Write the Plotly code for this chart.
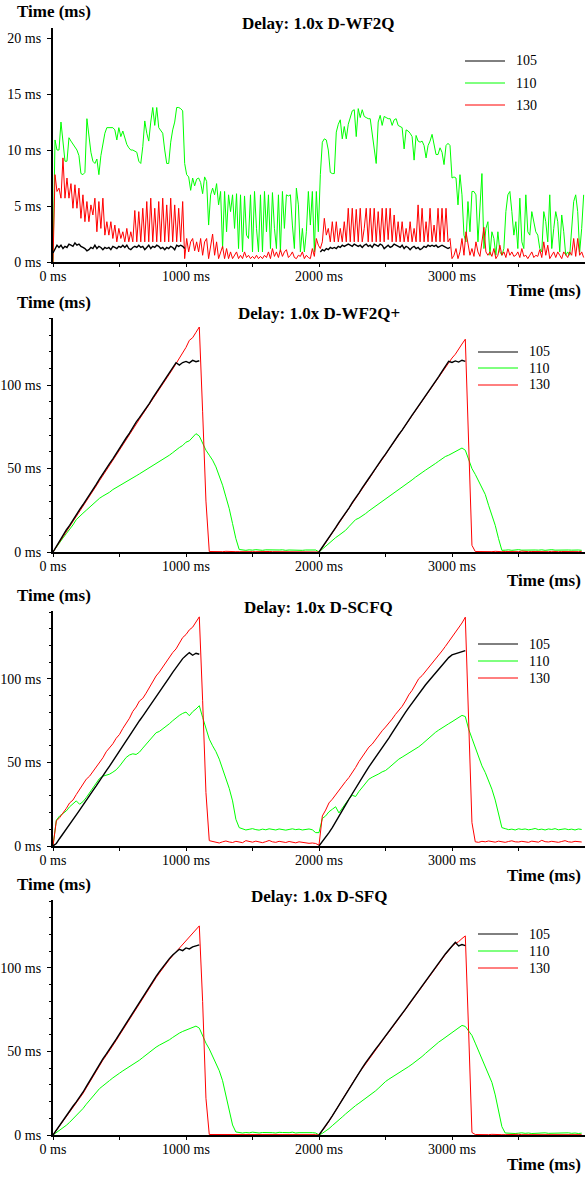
import plotly.graph_objects as go

# ---------------- data ----------------
SERIES_NAMES = ["105", "110", "130"]
SERIES_COLORS = ["#000000", "#00ff00", "#ff0000"]
X_TICK_VALS = [0, 1000, 2000, 3000]
X_TICK_LABELS = ["0 ms", "1000 ms", "2000 ms", "3000 ms"]
TITLES = ["Delay: 1.0x D-WF2Q", "Delay: 1.0x D-WF2Q+", "Delay: 1.0x D-SCFQ", "Delay: 1.0x D-SFQ"]

STEP_P1 = 15   # ms between samples, panel 1
STEP = 25      # ms between samples, panels 2-4

# Panel 1: D-WF2Q
green_wf2q = [
    0.0, 10.9, 10.0, 10.0, 12.5, 10.5, 9.0, 9.0, 11.1, 10.8, 10.5, 10.3, 10.0, 9.5, 7.9, 7.8, 8.0, 12.8, 11.5, 9.8,
    9.0, 8.8, 9.2, 7.8, 9.5, 10.6, 11.5, 12.0, 12.0, 12.0, 12.0, 11.8, 10.9, 12.0, 11.2, 11.7, 11.0, 10.5, 10.2, 10.0,
    10.0, 9.9, 9.8, 9.0, 8.8, 10.3, 12.6, 11.5, 10.8, 12.5, 13.8, 12.2, 13.8, 12.0, 11.8, 11.5, 10.0, 8.8, 8.8, 10.7,
    11.8, 12.5, 13.8, 13.8, 13.7, 13.5, 8.8,
    7.8, 7.6, 6.4, 7.5, 6.8, 7.4, 7.5, 7.1, 6.1, 7.6, 7.2, 3.3, 6.0, 6.6, 6.0, 7.0, 5.1, 6.3, 1.2, 6.3,
    2.7, 6.0, 4.5, 6.0, 3.0, 6.1, 1.2, 6.0, 0.9, 5.9, 2.4, 2.1, 6.0, 0.9, 6.3, 3.0, 0.9, 6.0, 0.9, 6.3,
    2.7, 6.0, 1.2, 6.2, 3.0, 1.2, 6.0, 0.9, 6.3, 3.0, 6.0, 5.9, 6.0, 3.3, 1.2, 6.6, 5.1, 0.9, 3.0, 0.9,
    2.7, 6.3, 3.3, 6.3, 0.9, 6.3, 2.7,
    7.8, 10.7, 11.0, 10.9, 10.0, 8.0, 7.9, 7.9, 11.6, 12.3, 12.7, 11.0, 12.1, 11.0, 12.3, 12.9, 13.5, 13.6, 11.2, 13.7,
    12.9, 13.6, 13.0, 12.9, 12.8, 12.8, 11.4, 10.4, 8.8, 12.5, 13.1, 12.2, 13.0, 12.9, 12.8, 12.8, 12.2, 12.7, 12.8, 12.2,
    12.1, 12.0, 10.1, 11.8, 11.7, 11.5, 11.2, 9.1, 11.3, 10.8, 10.7, 10.8, 10.4, 9.3, 10.4, 10.8, 11.4, 10.4, 9.6, 9.6,
    10.2, 9.8, 8.7, 10.4, 10.6, 10.4, 7.5,
    7.6, 7.5, 5.1, 7.8, 6.0, 2.4, 1.8, 5.4, 2.7, 6.3, 6.3, 6.0, 1.8, 4.8, 7.9, 1.2, 3.0, 3.6, 0.6, 2.7,
    2.1, 0.6, 2.7, 0.9, 0.6, 1.2, 4.5, 6.0, 6.3, 4.5, 2.4, 3.6, 1.2, 5.7, 1.8, 1.2, 6.0, 2.7, 2.4, 4.5,
    3.6, 2.7, 2.4, 1.2, 0.9, 4.5, 3.6, 1.8, 6.0, 1.2, 3.0, 4.5, 3.6, 0.9, 4.2, 2.7, 0.6, 0.9, 0.6, 2.7,
    5.4, 6.0, 4.5, 0.9, 3.0, 6.0,
]
red_wf2q = [
    0.0, 7.8, 6.3, 6.6, 5.7, 9.3, 5.7, 7.5, 5.7, 7.0, 4.8, 6.9, 4.8, 6.6, 3.9, 6.0, 3.6, 5.4, 3.6, 5.1,
    4.2, 5.7, 2.7, 5.4, 3.0, 5.7, 2.4, 3.6, 2.4, 3.6, 2.1, 3.3, 1.8, 3.0, 2.1, 2.7, 1.8, 3.0, 1.8, 2.7,
    1.8, 4.6, 1.8, 4.5, 1.8, 4.8, 1.8, 5.4, 1.8, 5.7, 1.8, 4.8, 1.8, 5.4, 1.8, 5.7, 1.8, 5.1, 1.8, 5.7,
    1.8, 5.1, 1.8, 4.8, 1.8, 5.4, 0.3,
    2.1, 0.9, 1.8, 2.1, 1.0, 1.8, 0.9, 2.1, 0.6, 1.8, 2.1, 0.3, 1.5, 2.5, 0.6, 1.8, 0.3, 0.9, 1.4, 0.3,
    1.2, 0.3, 0.9, 0.3, 0.6, 0.9, 0.3, 0.6, 0.3, 0.9, 0.4, 0.6, 0.3, 0.5, 0.3, 0.6, 0.3, 0.5, 0.3, 0.6,
    0.4, 0.9, 0.3, 1.2, 0.5, 0.9, 0.4, 1.1, 0.5, 0.9, 1.1, 0.4, 0.6, 0.9, 0.4, 0.3, 0.6, 0.5, 0.9, 0.3,
    0.6, 0.4, 0.3, 1.2, 0.5, 2.1, 1.5,
    1.2, 1.8, 3.9, 2.4, 3.0, 1.8, 3.6, 1.8, 3.6, 1.8, 3.0, 1.8, 3.6, 1.8, 4.8, 1.8, 4.8, 1.8, 4.7, 1.8,
    4.8, 1.8, 3.0, 4.8, 1.8, 4.8, 1.8, 4.8, 1.8, 4.5, 1.8, 4.8, 1.8, 4.8, 2.0, 4.8, 1.8, 4.2, 1.8, 3.6,
    1.8, 3.6, 1.8, 3.0, 1.8, 3.6, 1.8, 3.0, 1.8, 5.1, 1.8, 4.8, 1.8, 3.6, 1.8, 4.8, 1.8, 3.3, 1.8, 4.8,
    1.8, 4.8, 1.8, 4.8, 1.8, 2.1, 0.3,
    0.6, 1.2, 0.3, 0.9, 2.1, 0.6, 2.7, 1.8, 0.6, 1.2, 0.5, 1.8, 0.9, 0.5, 1.8, 3.1, 0.9, 0.6, 0.9, 0.5,
    1.2, 0.3, 0.6, 1.5, 0.6, 0.9, 0.4, 1.2, 0.6, 0.9, 0.5, 0.6, 0.9, 0.4, 1.2, 0.5, 0.6, 0.3, 0.6, 0.9,
    0.4, 0.6, 0.5, 1.1, 0.4, 1.8, 0.6, 1.5, 0.3, 0.6, 0.9, 0.4, 0.9, 0.6, 0.3, 0.9, 0.6, 0.4, 0.9, 0.6,
    2.1, 0.5, 2.1, 0.6, 0.9, 0.4,
]
black_wf2q_a = [  # starts at 0 ms
    0.8, 1.2, 1.5, 1.3, 1.5, 1.2, 1.4, 1.3, 1.6, 1.5, 1.4, 1.7, 1.5, 1.6, 1.4, 1.3, 1.2, 1.0, 1.1, 1.3,
    1.2, 1.5, 1.2, 1.4, 1.3, 1.1, 1.3, 1.2, 1.3, 1.1, 1.4, 1.3, 1.2, 1.4, 1.3, 1.5, 1.3, 1.5, 1.2, 1.1,
    1.3, 1.4, 1.3, 1.5, 1.3, 1.4, 1.1, 1.3, 1.5, 1.2, 1.4, 1.3, 1.5, 1.4, 1.2, 1.3, 1.1, 1.3, 1.2, 1.4,
    1.3, 1.1, 1.5, 1.4, 1.5, 1.4, 1.2,
]
black_wf2q_b = [  # starts at 2010 ms
    0.9, 1.1, 1.0, 1.2, 1.1, 1.3, 1.2, 1.3, 1.2, 1.4, 1.3, 1.5, 1.4, 1.5, 1.6, 1.5, 1.4, 1.6, 1.5, 1.4,
    1.5, 1.3, 1.5, 1.6, 1.4, 1.5, 1.3, 1.6, 1.5, 1.4, 1.6, 1.5, 1.2, 1.4, 1.5, 1.3, 1.4, 1.6, 1.5, 1.4,
    1.3, 1.5, 1.2, 1.4, 1.3, 1.1, 1.3, 1.4, 1.2, 1.3, 1.1, 1.2, 1.4, 1.3, 1.5, 1.4, 1.5, 1.4, 1.5, 1.3,
    1.4, 1.5, 1.4, 1.3, 1.2, 1.3,
]

# Panel 2: D-WF2Q+
black_wf2qp_a = [
    0.0, 3.5, 6.8, 9.9, 13.2, 16.0, 19.3, 22.0, 25.4, 28.3, 31.2, 34.6, 37.2, 40.5, 43.8, 46.6, 49.8, 52.9, 55.8, 59.1,
    62.0, 65.4, 68.3, 71.2, 74.6, 77.8, 80.5, 83.2, 86.4, 89.1, 92.3, 95.4, 98.2, 101.3, 104.6, 107.5, 110.8, 113.4, 112.0, 113.5,
    114.2, 113.3, 114.8, 114.0, 114.6,
]
black_wf2qp_b = [
    0.0, 2.8, 5.7, 8.6, 11.9, 14.6, 17.8, 20.5, 23.4, 26.3, 29.6, 32.2, 35.3, 38.4, 41.0, 44.2, 47.1, 50.2, 52.8, 55.9,
    58.6, 61.7, 64.5, 67.3, 70.4, 73.0, 76.2, 79.1, 82.0, 84.9, 87.7, 90.8, 93.5, 96.6, 99.4, 102.3, 105.1, 108.2, 111.0, 114.3,
    113.6, 114.5, 113.8, 114.9, 114.2,
]
green_wf2qp = [
    0.0, 3.0, 5.6, 8.4, 11.0, 13.5, 16.2, 19.4, 21.5, 23.2, 25.0, 26.8, 28.5, 30.6, 32.2, 33.5, 34.6, 35.8, 37.4, 38.5,
    39.8, 40.9, 42.0, 43.1, 44.4, 45.6, 46.8, 48.0, 49.2, 50.6, 51.7, 52.9, 54.0, 55.3, 56.4, 58.0, 59.5, 61.2, 62.6, 63.8,
    65.8, 66.6, 68.8, 70.9, 69.5, 65.0, 61.0, 58.0, 55.0, 51.0, 46.0, 40.0, 33.0, 26.0, 17.0, 8.0, 1.5,
    1.2, 1.0, 1.3, 1.1, 1.4, 1.2, 1.0, 1.3, 1.2, 1.1, 1.4, 1.2, 1.3, 1.0, 1.2, 1.1, 1.3, 1.2, 1.0, 1.2, 1.3, 1.1, 1.2,
    0.0, 1.8, 3.5, 5.6, 7.2, 8.6, 10.0, 11.5, 13.0, 15.2, 17.6, 19.4, 20.3, 21.5, 23.0, 24.6, 26.0, 27.4, 28.8, 30.5,
    32.0, 33.4, 34.6, 36.0, 37.2, 38.6, 40.0, 41.8, 43.2, 44.8, 46.0, 47.6, 49.0, 50.2, 51.8, 53.0, 54.4, 55.8, 57.2, 58.0,
    59.0, 59.8, 61.0, 62.3, 61.0, 55.6, 50.0, 46.5, 42.5, 38.5, 34.5, 28.0, 22.5, 16.0, 8.0, 1.0,
    1.1, 1.3, 1.0, 1.2, 1.4, 1.1, 1.2, 1.0, 1.3, 1.2, 1.1, 1.3, 1.0, 1.2, 1.4, 1.1, 1.2, 1.3, 1.0, 1.2, 1.1, 1.3, 1.2, 1.0,
]
red_wf2qp = [
    0.0, 3.0, 6.2, 9.3, 12.4, 15.4, 18.5, 21.4, 24.6, 27.5, 30.4, 33.7, 36.4, 39.6, 42.8, 45.7, 48.9, 51.9, 54.9, 58.0,
    61.1, 64.3, 67.4, 70.2, 73.5, 76.6, 79.6, 82.6, 85.5, 88.4, 91.5, 94.5, 97.4, 100.4, 103.5, 106.6, 109.6, 112.8, 116.5, 119.9,
    122.6, 126.8, 128.4, 131.6, 134.8, 84.0, 30.5, 0.3,
    0.2, 0.3, 0.2, 0.2, 0.4, 0.2, 0.3, 0.2, 0.2, 0.3, 0.2, 0.5, 0.2, 0.2, 0.3, 0.2,
    0.2, 0.3, 0.2, 0.2, 0.4, 0.2, 0.3, 0.2, 0.2, 0.2, 0.3, 0.2, 0.2, 0.3, 0.2, 0.2,
    0.0, 2.6, 5.5, 8.3, 11.5, 14.3, 17.4, 20.2, 23.0, 26.0, 29.2, 31.9, 34.9, 38.0, 40.7, 43.8, 46.7, 49.8, 52.5, 55.5,
    58.3, 61.4, 64.2, 67.0, 70.0, 72.8, 75.9, 78.8, 81.7, 84.6, 87.5, 90.5, 93.2, 96.3, 99.1, 102.0, 104.9, 107.9, 110.8, 113.6,
    116.2, 118.5, 121.9, 124.6, 127.5, 65.0, 4.0, 0.3,
    0.2, 0.2, 0.3, 0.2, 0.2, 0.4, 0.2, 0.2, 0.3, 0.2, 0.2, 0.3, 0.2, 0.5, 0.2, 0.2,
    0.3, 0.2, 0.2, 0.3, 0.2, 0.2, 0.4, 0.2, 0.2, 0.3, 0.2, 0.2, 0.3, 0.2, 0.2, 0.3,
]

# Panel 3: D-SCFQ
black_scfq_a = [
    0.0, 1.5, 4.5, 7.2, 10.0, 13.2, 16.0, 18.6, 21.5, 24.6, 27.5, 30.4, 33.2, 36.0, 39.2, 42.4, 45.0, 47.8, 51.0, 54.0,
    57.0, 60.2, 63.0, 66.0, 69.2, 72.0, 75.0, 77.8, 80.6, 83.8, 86.6, 89.4, 92.4, 95.2, 98.2, 101.0, 104.0, 106.8, 109.8, 112.2,
    114.0, 115.8, 114.2, 115.4, 114.8,
]
black_scfq_b = [
    0.0, 2.5, 5.3, 8.0, 11.0, 14.2, 17.5, 21.0, 24.6, 28.0, 31.4, 34.6, 37.8, 41.0, 44.2, 47.4, 50.2, 53.0, 55.6, 58.5,
    61.4, 64.6, 67.8, 71.0, 74.2, 77.2, 80.0, 82.8, 85.6, 88.4, 91.2, 93.8, 96.4, 98.8, 101.2, 103.6, 106.0, 108.4, 110.6, 112.8,
    114.4, 115.0, 115.6, 116.2, 117.0,
]
green_scfq = [
    0.0, 15.5, 18.0, 19.5, 21.0, 23.5, 25.5, 27.0, 25.0, 26.5, 29.0, 31.8, 34.5, 37.6, 40.5, 41.8, 42.4, 43.0, 44.2, 45.6,
    47.8, 50.6, 53.0, 54.5, 55.2, 54.8, 56.2, 58.6, 60.8, 63.0, 65.4, 67.8, 68.6, 70.0, 71.8, 73.2, 75.0, 76.8, 78.2, 79.4,
    80.2, 78.0, 80.4, 82.0, 84.0, 77.0, 70.0, 64.0, 60.0, 56.5, 52.0, 46.0, 40.0, 34.5, 27.0, 16.0, 11.0,
    10.2, 9.6, 10.0, 10.4, 9.8, 9.5, 10.1, 9.7, 10.3, 9.9, 9.6, 10.2, 10.0, 9.5, 9.9, 10.3, 9.8, 10.1, 9.6, 9.9, 10.2, 9.7, 8.0,
    8.0, 16.5, 18.0, 20.5, 22.0, 23.5, 19.8, 22.8, 25.6, 28.2, 30.4, 29.6, 32.6, 35.2, 37.8, 40.0, 41.2, 42.0, 43.2, 44.4,
    45.2, 46.8, 48.6, 50.4, 52.0, 53.2, 54.4, 55.6, 56.8, 58.2, 59.4, 61.0, 62.8, 64.6, 66.4, 68.0, 69.4, 70.8, 72.0, 73.2,
    74.4, 75.6, 77.0, 78.2, 77.5, 70.0, 64.5, 59.0, 53.0, 48.0, 44.0, 39.5, 34.0, 27.5, 19.0, 11.0,
    10.4, 9.8, 10.1, 9.6, 10.3, 9.9, 10.2, 9.7, 10.0, 10.5, 9.8, 10.1, 9.6, 10.2, 9.9, 10.4, 9.7, 10.0, 10.3, 9.8, 10.1, 9.6, 10.2, 9.9,
]
red_scfq = [
    0.0, 15.0, 17.0, 19.5, 22.5, 25.8, 27.5, 30.8, 34.0, 37.2, 40.0, 41.8, 44.5, 47.5, 49.6, 52.8, 56.4, 58.8, 61.2, 64.5,
    66.8, 70.4, 73.6, 76.5, 80.6, 83.2, 86.8, 88.4, 91.5, 95.2, 98.0, 101.8, 104.2, 107.0, 110.4, 113.0, 115.8, 118.0, 121.5, 124.8,
    126.6, 129.4, 131.0, 134.5, 137.2, 87.0, 32.0, 3.2,
    2.8, 2.2, 1.8, 2.5, 3.0, 2.4, 2.1, 2.8, 2.5, 2.0, 3.2, 2.6, 2.3, 2.9, 2.4, 2.0,
    2.6, 3.3, 2.5, 2.2, 2.8, 2.4, 2.1, 2.7, 2.3, 1.9, 2.5, 2.2, 2.0, 1.6, 1.8, 1.5,
    0.5, 18.0, 21.5, 25.8, 28.0, 30.8, 33.5, 36.4, 38.6, 41.0, 43.8, 47.0, 50.5, 53.2, 56.0, 59.2, 61.0, 63.8, 66.4, 69.0,
    71.2, 73.5, 76.0, 78.8, 81.2, 83.6, 86.8, 90.5, 93.2, 96.6, 100.2, 102.0, 104.4, 106.8, 109.0, 111.6, 114.0, 116.8, 119.5, 122.2,
    125.4, 128.0, 130.6, 133.5, 137.0, 75.0, 14.0, 2.5,
    2.2, 2.8, 2.5, 3.0, 2.6, 2.3, 2.9, 2.5, 2.2, 2.7, 3.1, 2.5, 2.4, 2.8, 2.6, 2.2,
    2.9, 2.5, 2.3, 3.4, 2.6, 2.4, 2.8, 2.5, 2.2, 2.7, 3.2, 2.5, 2.3, 2.8, 2.6, 2.4,
]

# Panel 4: D-SFQ
black_sfq_a = [
    0.0, 3.0, 6.0, 9.0, 11.8, 14.6, 17.2, 19.8, 22.4, 25.6, 29.0, 32.4, 35.8, 39.2, 42.6, 45.6, 48.4, 51.2, 54.2, 57.4,
    60.6, 63.8, 66.8, 70.0, 73.4, 76.6, 79.8, 83.0, 86.2, 89.4, 92.2, 95.0, 97.8, 100.6, 103.4, 105.6, 107.8, 109.6, 111.2, 110.4,
    112.0, 111.4, 112.6, 113.2, 113.8,
]
black_sfq_b = [
    0.0, 2.6, 5.4, 8.4, 11.4, 14.6, 18.2, 21.6, 25.0, 28.2, 31.4, 34.4, 37.4, 40.2, 43.2, 46.2, 48.8, 51.4, 54.0, 56.6,
    59.4, 62.0, 64.6, 67.2, 69.8, 72.6, 75.4, 78.2, 81.0, 83.8, 86.6, 89.4, 92.0, 94.8, 97.6, 100.4, 103.0, 105.8, 108.4, 110.8,
    113.4, 115.4, 113.2, 114.0, 113.4,
]
green_sfq = [
    0.0, 1.4, 2.8, 4.3, 5.8, 7.6, 9.6, 11.8, 13.6, 15.8, 18.4, 20.8, 23.0, 25.6, 27.8, 29.4, 30.8, 32.6, 34.2, 35.8,
    37.0, 38.4, 39.6, 40.8, 42.0, 43.4, 44.8, 46.4, 48.0, 49.6, 51.0, 52.6, 53.8, 54.8, 55.8, 57.0, 58.4, 59.8, 61.0, 62.0,
    62.8, 63.6, 64.2, 65.2, 64.0, 59.0, 55.0, 51.5, 47.0, 43.0, 38.5, 32.5, 24.0, 14.0, 6.0, 1.8,
    1.6, 1.2, 1.5, 1.3, 1.7, 1.4, 1.2, 1.5, 1.6, 1.3, 1.4, 1.2, 1.6, 1.5, 1.3, 1.4, 1.7, 1.2, 1.4, 1.5, 1.3, 1.6, 1.4, 1.2,
    0.0, 1.0, 2.2, 3.8, 5.6, 7.2, 9.0, 10.8, 12.6, 14.4, 16.2, 17.6, 19.0, 20.4, 21.8, 23.2, 24.8, 26.4, 28.2, 30.2,
    32.0, 33.4, 34.6, 35.8, 37.0, 38.2, 39.6, 41.0, 42.4, 43.8, 45.2, 47.0, 48.8, 50.6, 52.4, 54.2, 55.6, 57.0, 58.4, 59.8,
    61.0, 62.4, 63.8, 65.6, 65.0, 62.0, 59.6, 55.0, 50.5, 45.6, 41.0, 36.5, 31.5, 24.0, 15.0, 5.0, 1.2,
    1.0, 1.2, 0.9, 1.1, 1.3, 1.0, 1.2, 0.9, 1.1, 1.0, 1.2, 1.3, 1.0, 1.1, 0.9, 1.2, 1.0, 1.1, 1.3, 1.0, 1.2, 0.9, 1.1,
]
red_sfq = [
    0.0, 2.8, 5.6, 8.4, 11.2, 13.8, 16.5, 19.2, 21.8, 24.8, 28.2, 31.6, 35.0, 38.4, 41.6, 44.8, 47.6, 50.4, 53.4, 56.6,
    59.8, 63.0, 66.0, 69.2, 72.6, 75.8, 79.0, 82.2, 85.4, 88.6, 91.4, 94.2, 97.0, 99.8, 102.6, 105.0, 107.4, 109.6, 111.8, 114.0,
    116.4, 118.6, 120.8, 123.0, 125.2, 80.0, 22.0, 0.3,
    0.3, 0.2, 0.4, 0.2, 0.3, 0.2, 0.2, 0.5, 0.2, 0.3, 0.2, 0.2, 0.4, 0.2, 0.3, 0.2,
    0.2, 0.3, 0.2, 0.4, 0.2, 0.2, 0.3, 0.2, 0.2, 0.3, 0.2, 0.4, 0.2, 0.2, 0.3, 0.2,
    0.0, 2.4, 5.2, 8.2, 11.2, 14.2, 17.8, 21.2, 24.6, 27.8, 31.0, 34.0, 37.0, 39.8, 42.8, 45.8, 48.4, 51.0, 53.6, 56.2,
    59.0, 61.6, 64.2, 66.8, 69.4, 72.2, 75.0, 77.8, 80.6, 83.4, 86.2, 89.0, 91.6, 94.4, 97.2, 100.0, 102.6, 105.4, 108.0, 110.4,
    113.0, 114.6, 115.8, 117.6, 119.2, 62.0, 1.5, 0.3,
    0.2, 0.3, 0.2, 0.2, 0.4, 0.2, 0.3, 0.2, 0.2, 0.3, 0.2, 0.2, 0.4, 0.2, 0.2, 0.3,
    0.2, 0.2, 0.3, 0.2, 0.4, 0.2, 0.2, 0.3, 0.2, 0.2, 0.3, 0.2, 0.2, 0.4, 0.2, 0.2,
]

# ---------------- build ----------------
def series_xy(segments, step):
    xs, ys = [], []
    for k, (start, vals) in enumerate(segments):
        if k:
            xs.append(None)
            ys.append(None)
        xs.extend(start + step * i for i in range(len(vals)))
        ys.extend(vals)
    return xs, ys


panels = [
    dict(step=STEP_P1, yrange=[0, 20.9], ytick=[0, 5, 10, 15, 20], yminor=None,
         black=[(0, black_wf2q_a), (2010, black_wf2q_b)], green=green_wf2q, red=red_wf2q),
    dict(step=STEP, yrange=[0, 140.2], ytick=[0, 50, 100], yminor=10,
         black=[(0, black_wf2qp_a), (2000, black_wf2qp_b)], green=green_wf2qp, red=red_wf2qp),
    dict(step=STEP, yrange=[0, 140.7], ytick=[0, 50, 100], yminor=10,
         black=[(0, black_scfq_a), (2000, black_scfq_b)], green=green_scfq, red=red_scfq),
    dict(step=STEP, yrange=[0, 140.7], ytick=[0, 50, 100], yminor=10,
         black=[(0, black_sfq_a), (2000, black_sfq_b)], green=green_sfq, red=red_sfq),
]

W, H = 585, 1178
PLOT_LEFT = 53
TOPS = [28, 318, 611, 900]
BOTTOMS = [262, 552, 846, 1135]
# legend key geometry (pixels): line start/end, row centres
LEGEND_LINE = [(465, 505), (478, 518), (478, 518), (478, 518)]
LEGEND_ROWS = [(61, 83, 105), (352, 368, 385), (644, 661, 678), (934, 951, 968)]
LINE_WIDTHS = {"105": 1.4, "110": 1.0, "130": 1.0}

FONT = "Liberation Serif, Times New Roman, Times, DejaVu Serif, serif"
fig = go.Figure()
annotations = []
shapes = []
layout = dict(
    width=W, height=H, autosize=False,
    margin=dict(l=0, r=0, t=0, b=0, pad=0, autoexpand=False),
    paper_bgcolor="white", plot_bgcolor="white",
    font=dict(family=FONT, size=14, color="black"),
    showlegend=False,
)

for i, p in enumerate(panels):
    n = "" if i == 0 else str(i + 1)
    xb, yb = series_xy(p["black"], p["step"])
    xg, yg = series_xy([(0, p["green"])], p["step"])
    xr, yr = series_xy([(0, p["red"])], p["step"])
    for (xs, ys), name, color in [
        ((xg, yg), SERIES_NAMES[1], SERIES_COLORS[1]),
        ((xr, yr), SERIES_NAMES[2], SERIES_COLORS[2]),
        ((xb, yb), SERIES_NAMES[0], SERIES_COLORS[0]),
    ]:
        fig.add_trace(go.Scatter(
            x=xs, y=ys, mode="lines", name=name,
            line=dict(color=color, width=LINE_WIDTHS[name]), xaxis="x" + n, yaxis="y" + n,
            hoverinfo="skip", showlegend=False,
        ))

    y0 = 1 - BOTTOMS[i] / H
    y1 = 1 - TOPS[i] / H
    layout["xaxis" + n] = dict(
        domain=[PLOT_LEFT / W, 1.0], range=[0, 4000], anchor="y" + n, automargin=False,
        showline=True, linecolor="black", linewidth=2, mirror=False,
        showgrid=False, zeroline=False,
        ticks="outside", ticklen=3, tickwidth=1, tickcolor="black",
        tickvals=X_TICK_VALS, ticktext=X_TICK_LABELS,
        tickfont=dict(family=FONT, size=14, color="black"),
        ticklabelstandoff=-3,
        minor=dict(dtick=500, tick0=0, ticks="outside", ticklen=3, tickwidth=1, tickcolor="black", showgrid=False),
    )
    ydict = dict(
        domain=[y0, y1], range=p["yrange"], anchor="x" + n, automargin=False,
        showline=True, linecolor="black", linewidth=2,
        showgrid=False, zeroline=False,
        ticks="outside", ticklen=4, tickwidth=1, tickcolor="black",
        tickvals=p["ytick"], ticktext=[f"{v} ms" for v in p["ytick"]],
        tickfont=dict(family=FONT, size=14, color="black"),
        ticklabelstandoff=3,
    )
    if p["yminor"]:
        ydict["minor"] = dict(dtick=p["yminor"], tick0=0, ticks="outside", ticklen=2,
                              tickwidth=1, tickcolor="black", showgrid=False)
    layout["yaxis" + n] = ydict

    # legend keys: a short line and the series name for each series
    lx0, lx1 = LEGEND_LINE[i]
    for row_y, name, color in zip(LEGEND_ROWS[i], SERIES_NAMES, SERIES_COLORS):
        yy = 1 - row_y / H
        shapes.append(dict(type="line", xref="paper", yref="paper",
                           x0=lx0 / W, x1=lx1 / W, y0=yy, y1=yy,
                           line=dict(color=color, width=1)))
        annotations.append(dict(
            text=name, xref="paper", yref="paper", x=(lx1 + 9) / W, y=yy,
            xanchor="left", yanchor="middle", showarrow=False,
            font=dict(family=FONT, size=14, color="black"),
        ))

    # chart title
    annotations.append(dict(
        text=TITLES[i], xref="paper", yref="paper",
        x=(PLOT_LEFT + W) / 2 / W, y=1 - (TOPS[i] - 4) / H,
        xanchor="center", yanchor="middle", showarrow=False,
        font=dict(family=FONT, size=17, color="black", weight="bold"),
    ))
    # y-axis title (top-left)
    annotations.append(dict(
        text="Time (ms)", xref="paper", yref="paper",
        x=54 / W, y=1 - (TOPS[i] - 16) / H,
        xanchor="center", yanchor="middle", showarrow=False,
        font=dict(family=FONT, size=17, color="black", weight="bold"),
    ))
    # x-axis title (bottom-right)
    annotations.append(dict(
        text="Time (ms)", xref="paper", yref="paper",
        x=583 / W, y=1 - (BOTTOMS[i] + 29) / H,
        xanchor="right", yanchor="middle", showarrow=False,
        font=dict(family=FONT, size=17, color="black", weight="bold"),
    ))

layout["annotations"] = annotations
layout["shapes"] = shapes
fig.update_layout(**layout)
fig.write_html(
    "out.html",
    config={"displayModeBar": False},
    post_script="document.documentElement.style.margin='0';document.body.style.margin='0';"
                "document.body.style.padding='0';document.body.style.overflow='hidden';",
)
